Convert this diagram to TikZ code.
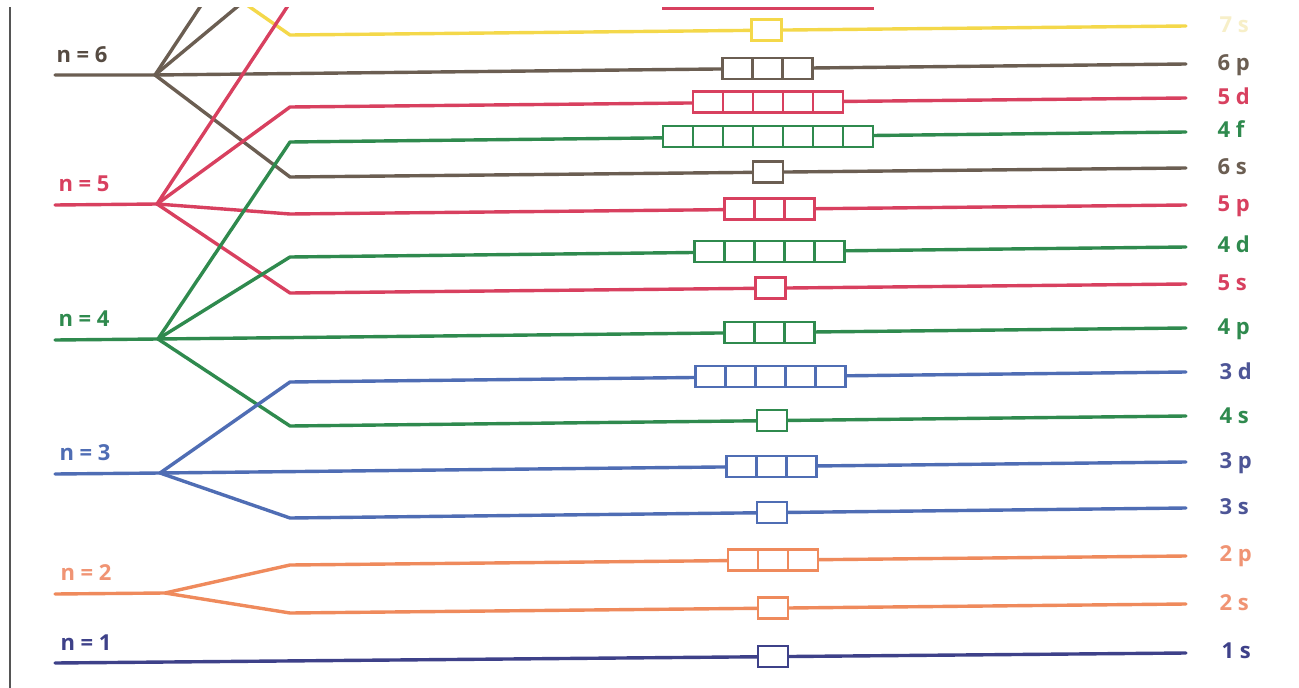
\documentclass[tikz,border=0pt]{standalone}
\usepackage{fontspec}
\setmainfont{Open Sans}
\usetikzlibrary{calc}
\definecolor{cBrown}{HTML}{6B5E52}
\definecolor{cRed}{HTML}{D8405F}
\definecolor{cGreen}{HTML}{2F8A4E}
\definecolor{cBlue}{HTML}{4F6DB4}
\definecolor{cBlueT}{HTML}{4D5596}
\definecolor{cOrange}{HTML}{EF8A5C}
\definecolor{cOrangeT}{HTML}{F09474}
\definecolor{cNavy}{HTML}{3E4189}
\definecolor{cYellow}{HTML}{F4D84A}
\definecolor{cYellowT}{HTML}{F7EFC8}
\definecolor{cBorder}{HTML}{555555}
\tikzset{
  lvl/.style={line width=3.4pt, line cap=round, line join=round},
  orb/.style={draw, fill=white, line width=2.5pt, minimum height=21pt, inner sep=0pt, outer sep=0pt, minimum width=#1*30pt},
  nlab/.style={anchor=base west, font=\bfseries\fontsize{22}{22}\selectfont},
  slab/.style={anchor=base west, font=\bfseries\fontsize{22}{22}\selectfont},
}
\newcommand\orbat[6]{% name, cells, colour, A, B, t
  \node[orb=#2, draw=#3] (#1) at ($(#4)!#6!(#5)$) {};
  \ifnum#2>1
    \pgfmathtruncatemacro\lastc{#2-1}%
    \foreach \i in {1,...,\lastc}{%
      \draw[#3, line width=2.5pt] ($(#1.south west)!{\i/#2}!(#1.south east)$) -- ($(#1.north west)!{\i/#2}!(#1.north east)$);}%
  \fi}
\begin{document}
\begin{tikzpicture}[x=1pt,y=-1pt]
\useasboundingbox (0,0) rectangle (1299,688);
\fill[white] (0,0) rectangle (1299,688);
\draw[cBorder, line width=2pt] (10,7) -- (10,688);
\begin{scope}
\clip (0,7) rectangle (1299,688);
% principal levels
\coordinate (n7) at (155,-59);
\coordinate (n6) at (155,75);  \coordinate (n6L) at (55,75);
\coordinate (n5) at (157,204); \coordinate (n5L) at (55,205);
\coordinate (n4) at (158,339); \coordinate (n4L) at (55,340);
\coordinate (n3) at (160,473); \coordinate (n3L) at (55,474);
\coordinate (n2) at (165,593); \coordinate (n2L) at (55,594);
\coordinate (n1L) at (55,663);
% sublevel bends and ends
\coordinate (s7sA) at (290,35);  \coordinate (s7sB) at (1186,26);
\coordinate (s6fA) at (290,-37);
\coordinate (s6dA) at (290,-129);
\coordinate (s6pB) at (1186,64);
\coordinate (s6sA) at (290,177); \coordinate (s6sB) at (1186,168);
\coordinate (s5fA) at (290,2.6); \coordinate (s5fB) at (1186,-6.4);
\coordinate (s5dA) at (290,107); \coordinate (s5dB) at (1186,98);
\coordinate (s5pA) at (290,214); \coordinate (s5pB) at (1186,205);
\coordinate (s5sA) at (290,293); \coordinate (s5sB) at (1186,284);
\coordinate (s4fA) at (290,142); \coordinate (s4fB) at (1186,132);
\coordinate (s4dA) at (290,257); \coordinate (s4dB) at (1186,247);
\coordinate (s4pB) at (1186,328);
\coordinate (s4sA) at (290,426); \coordinate (s4sB) at (1186,416);
\coordinate (s3dA) at (290,382); \coordinate (s3dB) at (1186,372);
\coordinate (s3pB) at (1186,462);
\coordinate (s3sA) at (290,518); \coordinate (s3sB) at (1186,508);
\coordinate (s2pA) at (290,565); \coordinate (s2pB) at (1186,556);
\coordinate (s2sA) at (290,613); \coordinate (s2sB) at (1186,604);
\coordinate (s1sB) at (1186,653);
% connectors
\draw[lvl, cYellow] (n7) -- (s7sA) -- (s7sB);
\draw[lvl, cBrown] (n6L) -- (n6) -- (s6pB);
\draw[lvl, cBrown] (n6) -- (s6sA) -- (s6sB);
\draw[lvl, cBrown] (n6) -- (s6dA);
\draw[lvl, cBrown] (n6) -- (s6fA);
\draw[lvl, cRed] (n5L) -- (n5) -- (s5pA) -- (s5pB);
\draw[lvl, cRed] (n5) -- (s5sA) -- (s5sB);
\draw[lvl, cRed] (n5) -- (s5dA) -- (s5dB);
\draw[lvl, cRed] (n5) -- (s5fA) -- (s5fB);
\draw[lvl, cGreen] (n4L) -- (n4) -- (s4pB);
\draw[lvl, cGreen] (n4) -- (s4sA) -- (s4sB);
\draw[lvl, cGreen] (n4) -- (s4dA) -- (s4dB);
\draw[lvl, cGreen] (n4) -- (s4fA) -- (s4fB);
\draw[lvl, cBlue] (n3L) -- (n3) -- (s3pB);
\draw[lvl, cBlue] (n3) -- (s3sA) -- (s3sB);
\draw[lvl, cBlue] (n3) -- (s3dA) -- (s3dB);
\draw[lvl, cOrange] (n2L) -- (n2) -- (s2pA) -- (s2pB);
\draw[lvl, cOrange] (n2) -- (s2sA) -- (s2sB);
\draw[lvl, cNavy] (n1L) -- (s1sB);
% orbital boxes
\orbat{b7s}{1}{cYellow}{s7sA}{s7sB}{0.532}
\orbat{b6p}{3}{cBrown}{n6}{s6pB}{0.594}
\orbat{b5f}{7}{cRed}{s5fA}{s5fB}{0.5335}
\orbat{b5d}{5}{cRed}{s5dA}{s5dB}{0.5335}
\orbat{b4f}{7}{cGreen}{s4fA}{s4fB}{0.5335}
\orbat{b6s}{1}{cBrown}{s6sA}{s6sB}{0.5335}
\orbat{b5p}{3}{cRed}{s5pA}{s5pB}{0.535}
\orbat{b4d}{5}{cGreen}{s4dA}{s4dB}{0.535}
\orbat{b5s}{1}{cRed}{s5sA}{s5sB}{0.536}
\orbat{b4p}{3}{cGreen}{n4}{s4pB}{0.595}
\orbat{b3d}{5}{cBlue}{s3dA}{s3dB}{0.536}
\orbat{b4s}{1}{cGreen}{s4sA}{s4sB}{0.538}
\orbat{b3p}{3}{cBlue}{n3}{s3pB}{0.596}
\orbat{b3s}{1}{cBlue}{s3sA}{s3sB}{0.538}
\orbat{b2p}{3}{cOrange}{s2pA}{s2pB}{0.539}
\orbat{b2s}{1}{cOrange}{s2sA}{s2sB}{0.539}
\orbat{b1s}{1}{cNavy}{n1L}{s1sB}{0.635}
\end{scope}
% left labels
\node[nlab, text=cBrown!80!black] (ln6) at (53,62) {n = 6};
\node[nlab, text=cRed] (ln5) at (55,191) {n = 5};
\node[nlab, text=cGreen] (ln4) at (55,326) {n = 4};
\node[nlab, text=cBlue] (ln3) at (56,460) {n = 3};
\node[nlab, text=cOrangeT] (ln2) at (57,580) {n = 2};
\node[nlab, text=cNavy] (ln1) at (57,650) {n = 1};
% right labels
\node[slab, text=cYellowT] (l7s) at (1216,32) {7 s};
\node[slab, text=cBrown] (l6p) at (1214,70) {6 p};
\node[slab, text=cRed] (l5d) at (1214,104) {5 d};
\node[slab, text=cGreen] (l4f) at (1214,137) {4 f};
\node[slab, text=cBrown] (l6s) at (1214,174) {6 s};
\node[slab, text=cRed] (l5p) at (1214,211) {5 p};
\node[slab, text=cGreen] (l4d) at (1214,252) {4 d};
\node[slab, text=cRed] (l5s) at (1214,290) {5 s};
\node[slab, text=cGreen] (l4p) at (1214,334) {4 p};
\node[slab, text=cBlueT] (l3d) at (1216,379) {3 d};
\node[slab, text=cGreen] (l4s) at (1216,423) {4 s};
\node[slab, text=cBlueT] (l3p) at (1216,468) {3 p};
\node[slab, text=cBlueT] (l3s) at (1216,514) {3 s};
\node[slab, text=cOrangeT] (l2p) at (1216,561) {2 p};
\node[slab, text=cOrangeT] (l2s) at (1216,610) {2 s};
\node[slab, text=cNavy] (l1s) at (1218,658) {1 s};
\end{tikzpicture}
\end{document}
